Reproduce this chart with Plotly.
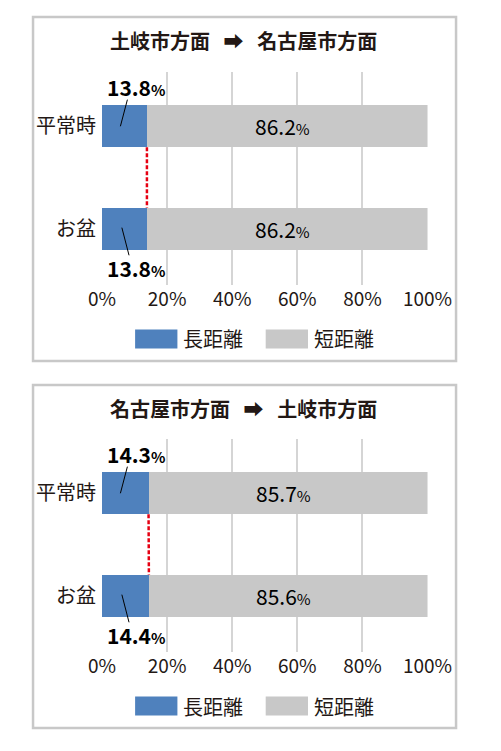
import plotly.graph_objects as go
from plotly.subplots import make_subplots

# the page body has an 8px margin, so the figure is drawn 16px smaller
OFF = 8
W, H = 501 - 2 * OFF, 751 - 2 * OFF
FONT = "Noto Sans CJK JP"
TXT = "#231815"
BLUE = "#4F81BD"
GRAY = "#C8C8C8"
RED = "#E60012"

categories = ["平常時", "お盆"]
series_names = ["長距離", "短距離"]
titles = ["土岐市方面 ➡ 名古屋市方面", "名古屋市方面 ➡ 土岐市方面"]
long_vals = [[13.8, 13.8], [14.3, 14.4]]
short_vals = [[86.2, 86.2], [85.7, 85.6]]
tick_vals = [0, 20, 40, 60, 80, 100]
tick_text = ["0%", "20%", "40%", "60%", "80%", "100%"]


def px(x):
    return (x - OFF) / W


def py(y):
    return 1 - (y - OFF) / H


def pct(v, small, bold=False):
    s = f"{v:.1f}<span style='font-size:{small}px'>%</span>"
    return f"<b>{s}</b>" if bold else s


fig = make_subplots(rows=2, cols=1)

# pixel layout of each panel: (border top, border bottom, plot top, plot bottom)
panels = [(17, 361, 72, 285), (385, 728, 439, 652)]
bar_w = 0.41

for i, (btop, bbot, ptop, pbot) in enumerate(panels):
    r = i + 1
    fig.add_trace(go.Bar(y=categories, x=long_vals[i], orientation="h",
                         name=series_names[0], marker=dict(color=BLUE, line_width=0),
                         width=bar_w, showlegend=False, hoverinfo="x"), row=r, col=1)
    fig.add_trace(go.Bar(y=categories, x=short_vals[i], orientation="h",
                         name=series_names[1], marker=dict(color=GRAY, line_width=0),
                         width=bar_w, showlegend=False, hoverinfo="x"), row=r, col=1)

    xa = "xaxis" if r == 1 else f"xaxis{r}"
    ya = "yaxis" if r == 1 else f"yaxis{r}"
    xref = "x" if r == 1 else f"x{r}"
    yref = "y" if r == 1 else f"y{r}"
    fig.layout[xa].update(domain=[px(95), px(449)], range=[0, 100],
                          tickvals=tick_vals, ticktext=tick_text,
                          showgrid=True, gridcolor="#D5D5D5", gridwidth=2,
                          zeroline=False, showline=False,
                          tickfont=dict(family=FONT, size=19, color=TXT),
                          ticklabelstandoff=1, fixedrange=True)
    fig.layout[ya].update(domain=[py(pbot), py(ptop)], range=[1.55, -0.53],
                          type="category", categoryarray=categories,
                          showgrid=False, zeroline=False, showline=False,
                          tickfont=dict(family=FONT, size=20, color=TXT),
                          ticklabelstandoff=5, fixedrange=True)

    # panel border
    fig.add_shape(type="rect", xref="paper", yref="paper",
                  x0=px(20), x1=px(480), y0=py(bbot), y1=py(btop),
                  line=dict(color="#C8C8C8", width=2.5), layer="below")
    # title
    fig.add_annotation(xref="paper", yref="paper", x=px(249), y=py(btop + 23),
                       text=f"<b>{titles[i].replace(' ', '&nbsp;&nbsp;&nbsp;')}</b>",
                       showarrow=False, yanchor="middle",
                       font=dict(family=FONT, size=20, color=TXT))

    # red dotted connector between the long-distance bar ends
    fig.add_shape(type="line", xref=xref, yref=yref,
                  x0=long_vals[i][0], y0=bar_w / 2, x1=long_vals[i][1], y1=1 - bar_w / 2,
                  line=dict(color=RED, width=2.5, dash="4px,2px"))

    # long-distance labels with leader lines
    for j, v in enumerate(long_vals[i]):
        above = j == 0
        fig.add_annotation(xref=xref, yref=yref, x=10.5, y=j + (-0.385 if above else 0.385),
                           text=pct(v, 15, bold=True), showarrow=False,
                           xanchor="center", yanchor="middle",
                           font=dict(family=FONT, size=21, color="#000000"))
        if above:
            fig.add_shape(type="line", xref=xref, yref=yref,
                          x0=7.8, y0=-0.26, x1=5.65, y1=0.0,
                          line=dict(color="#000000", width=1))
        else:
            fig.add_shape(type="line", xref=xref, yref=yref,
                          x0=6.1, y0=0.99, x1=8.3, y1=1.26,
                          line=dict(color="#000000", width=1))

    # short-distance labels centered in the gray segment
    for j, v in enumerate(short_vals[i]):
        fig.add_annotation(xref=xref, yref=yref, x=long_vals[i][j] + v / 2 - 1.5, y=j,
                           text=pct(v, 15), showarrow=False,
                           font=dict(family=FONT, size=21, color="#000000"))

    # legend
    ly = bbot - 22
    for k, (col, x0) in enumerate([(BLUE, 131), (GRAY, 273)]):
        fig.add_shape(type="rect", xref="paper", yref="paper",
                      x0=px(x0), x1=px(x0 + 46), y0=py(ly + 9.5), y1=py(ly - 9.5),
                      line_width=0, fillcolor=col)
        fig.add_annotation(xref="paper", yref="paper", x=px(x0 + 50), y=py(ly),
                           text=series_names[k], showarrow=False,
                           xanchor="left", yanchor="middle",
                           font=dict(family=FONT, size=20, color=TXT))

fig.update_layout(width=W, height=H, margin=dict(l=0, r=0, t=0, b=0),
                  barmode="stack", bargap=0, plot_bgcolor="white",
                  paper_bgcolor="white", showlegend=False,
                  font=dict(family=FONT, color=TXT))

fig.write_html("out.html")
